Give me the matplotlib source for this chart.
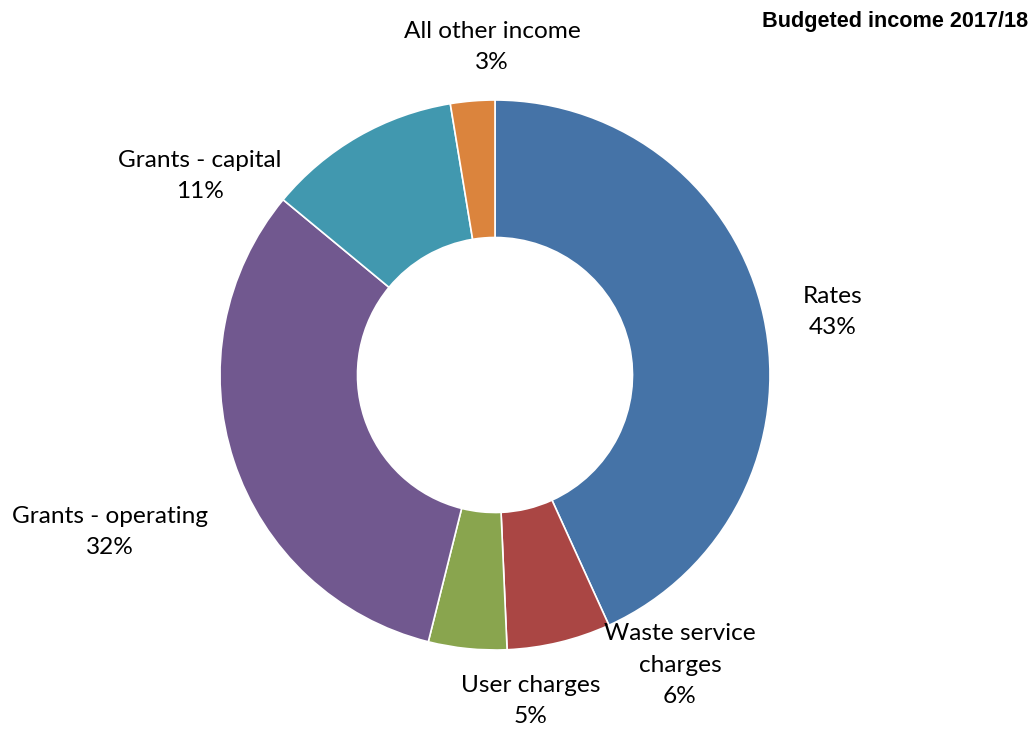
import matplotlib
matplotlib.use('Agg')
import matplotlib.pyplot as plt

# Datos del grafico (porcentajes estimados de la imagen)
categorias = ['Rates', 'Waste service\ncharges', 'User charges', 'Grants - operating',
              'Grants - capital', 'All other income']
valores = [43.2, 6.1, 4.6, 32.1, 11.4, 2.6]
colores = ['#4573A7', '#AA4644', '#89A54E', '#71588F', '#4198AF', '#DB843D']
titulo = 'Budgeted income 2017/18'

# Posiciones de las etiquetas (pixeles en la imagen)
pos_etiquetas = [(833, 312), (680, 665), (531, 701), (110, 532), (200, 176), (492, 47)]

W, H = 1033, 729
fig = plt.figure(figsize=(W / 100, H / 100), dpi=100)

# Eje cuadrado con el centro del anillo en (495, 375) y radio de 275 px
cx, cy, r = 495, 375, 275
ax = fig.add_axes([(cx - r) / W, (H - cy - r) / H, 2 * r / W, 2 * r / H])

ax.pie(valores, colors=colores, startangle=90, counterclock=False,
       radius=1.0, wedgeprops=dict(width=0.5, edgecolor='white', linewidth=1.2))
ax.set_xlim(-1, 1)
ax.set_ylim(-1, 1)
ax.set_aspect('equal')
ax.axis('off')

# Etiquetas con nombre y porcentaje
for cat, val, (px, py) in zip(categorias, valores, pos_etiquetas):
    texto = f"{cat}\n{int(val + 0.5)}%"
    fig.text(px / W, 1 - py / H, texto, ha='center', va='center',
             fontsize=17.6, family='Lato', linespacing=1.6, color='#000000')

fig.text(1028 / W, 1 - 22 / H, titulo, ha='right', va='center',
         fontsize=15.6, fontweight='bold', family='Liberation Sans')

fig.savefig('out.png', dpi=100)
